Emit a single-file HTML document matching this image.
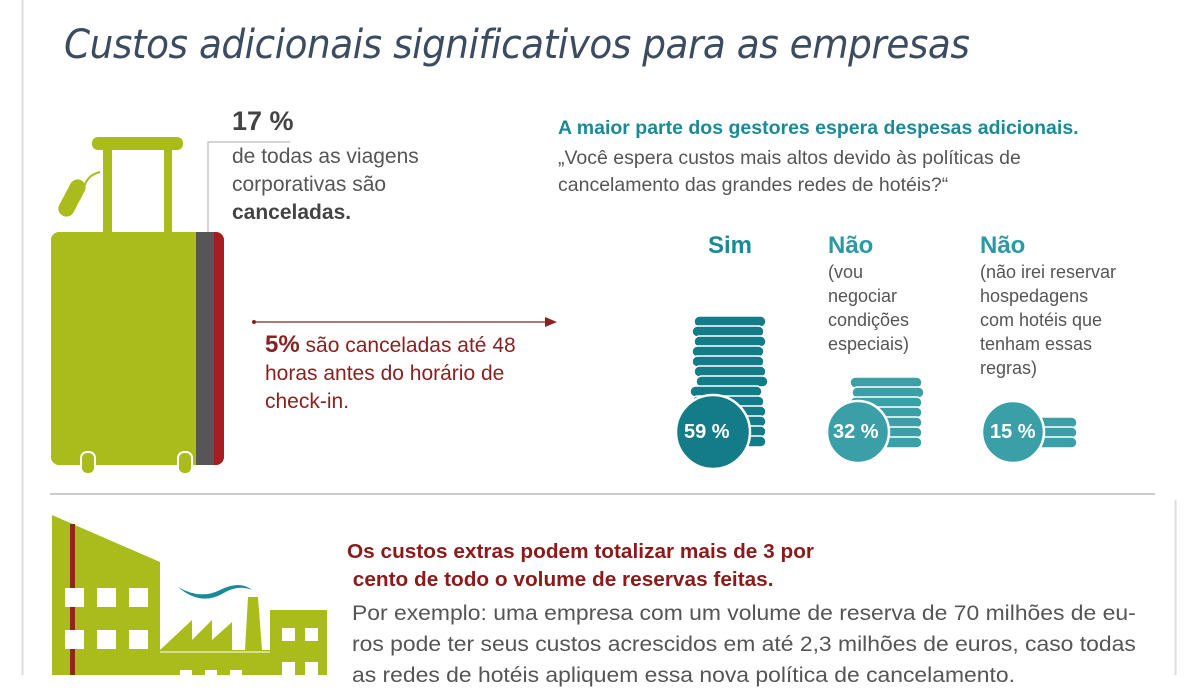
<!DOCTYPE html>
<html><head><meta charset="utf-8"><style>
body{margin:0;width:1200px;height:675px;overflow:hidden;background:#fff;font-family:"Liberation Sans",sans-serif;position:relative}
.t{position:absolute;white-space:nowrap}
</style></head><body>
<svg width="1200" height="675" style="position:absolute;left:0;top:0">
<line x1="22.5" y1="0" x2="22.5" y2="675" stroke="#ddd" stroke-width="2"/>
<line x1="1175.5" y1="500" x2="1175.5" y2="675" stroke="#ddd" stroke-width="2"/>
<line x1="50" y1="494" x2="1155" y2="494" stroke="#ccc" stroke-width="2"/>
<rect x="92" y="137" width="91" height="13" rx="6" fill="#a9bc1b"/>
<rect x="103" y="150" width="9" height="84" fill="#a9bc1b"/>
<rect x="164" y="150" width="8" height="84" fill="#a9bc1b"/>
<path d="M100 172 Q88 175 85 185" stroke="#a9bc1b" stroke-width="2" fill="none"/>
<rect x="64" y="178" width="16" height="40" rx="8" transform="rotate(28 72 198)" fill="#a9bc1b"/>
<rect x="51" y="232" width="173" height="233" rx="8" fill="#a9bc1b"/>
<rect x="196" y="232" width="18" height="233" fill="#565656"/>
<path d="M214 232 h2 a8 8 0 0 1 8 8 v217 a8 8 0 0 1 -8 8 h-2z" fill="#a41e22"/>
<rect x="81" y="452" width="14" height="22" rx="6" fill="#a9bc1b" stroke="#fff" stroke-width="2"/>
<rect x="178" y="452" width="14" height="22" rx="6" fill="#a9bc1b" stroke="#fff" stroke-width="2"/>
<polyline points="290,142 208,142 208,232" fill="none" stroke="#aaa" stroke-width="1"/>
<line x1="254" y1="322" x2="550" y2="322" stroke="#8b2020" stroke-width="1.2"/>
<circle cx="254" cy="322" r="2" fill="#8b2020"/>
<path d="M545 317 L557 322 L545 327z" fill="#8b2020"/>
<g fill="#137c88" stroke="#fff" stroke-width="1.5">
<rect x="694" y="316" width="72" height="11" rx="5.5"/><rect x="692" y="326" width="72" height="11" rx="5.5"/><rect x="694" y="336" width="72" height="11" rx="5.5"/><rect x="692" y="346" width="72" height="11" rx="5.5"/><rect x="692" y="356" width="72" height="11" rx="5.5"/><rect x="694" y="366" width="72" height="11" rx="5.5"/><rect x="696" y="376" width="72" height="11" rx="5.5"/><rect x="690" y="386" width="72" height="11" rx="5.5"/><rect x="692" y="396" width="72" height="11" rx="5.5"/><rect x="694" y="406" width="72" height="11" rx="5.5"/><rect x="694" y="416" width="72" height="11" rx="5.5"/><rect x="694" y="426" width="72" height="11" rx="5.5"/><rect x="694" y="436" width="72" height="11" rx="5.5"/>
<circle cx="713" cy="432" r="37" stroke-width="2.5"/>
</g>
<g fill="#3a9fa6" stroke="#fff" stroke-width="1.5">
<rect x="850" y="377" width="72" height="11" rx="5.5"/><rect x="852" y="387" width="72" height="11" rx="5.5"/><rect x="850" y="397" width="72" height="11" rx="5.5"/><rect x="850" y="407" width="72" height="11" rx="5.5"/><rect x="850" y="417" width="72" height="11" rx="5.5"/><rect x="850" y="427" width="72" height="11" rx="5.5"/><rect x="850" y="437" width="72" height="11" rx="5.5"/>
<circle cx="858" cy="432" r="31" stroke-width="2.5"/>
</g>
<g fill="#3a9fa6" stroke="#fff" stroke-width="1.5">
<rect x="1035" y="417" width="42" height="11" rx="5.5"/><rect x="1035" y="427" width="42" height="11" rx="5.5"/><rect x="1035" y="437" width="42" height="11" rx="5.5"/>
<circle cx="1013" cy="432" r="31" stroke-width="2.5"/>
</g>
<polygon points="52,515 160,562 160,675 52,675" fill="#a9bc1b"/>
<rect x="70" y="524" width="5" height="151" fill="#8b2a10"/>
<g fill="#fff"><rect x="65" y="588" width="19" height="19"/><rect x="97" y="588" width="19" height="19"/><rect x="129" y="588" width="19" height="19"/><rect x="65" y="630" width="19" height="19"/><rect x="97" y="630" width="19" height="19"/><rect x="129" y="630" width="19" height="19"/></g>
<polygon points="160,650 192,620 192,640 212,620 212,640 232,622 232,650 245,650 248,597 258,597 262,650 270,650 270,610 327,610 327,675 160,675" fill="#a9bc1b"/>
<line x1="160" y1="652" x2="270" y2="652" stroke="#fff" stroke-width="1"/>
<g fill="#fff"><rect x="282" y="628" width="13" height="13"/><rect x="305" y="628" width="13" height="13"/><rect x="282" y="662" width="13" height="13"/><rect x="305" y="662" width="13" height="13"/><rect x="180" y="670" width="12" height="6"/><rect x="205" y="670" width="12" height="6"/><rect x="230" y="670" width="12" height="6"/></g>
<path d="M178 587 Q200 600 220 590 Q240 580 252 590 Q238 584 222 594 Q200 606 178 587z" fill="#1a8a98"/>
</svg>
<div class="t" style="left:64px;top:22px;font-size:40px;font-style:italic;color:#3b4b60;font-family:'DejaVu Sans',sans-serif;font-weight:200;letter-spacing:-0.5px;transform:scaleX(0.935);transform-origin:left">Custos adicionais significativos para as empresas</div>
<div class="t" style="left:232px;top:106px;font-size:27px;font-weight:bold;color:#444">17 %</div>
<div class="t" style="left:232px;top:143px;font-size:21px;line-height:28px;color:#555">de todas as viagens<br>corporativas são<br><b style="color:#444">canceladas.</b></div>
<div class="t" style="left:265px;top:331px;font-size:21px;line-height:28px;color:#8b2020"><b style="font-size:24px">5%</b> são canceladas até 48<br>horas antes do horário de<br>check-in.</div>
<div class="t" style="left:558px;top:117px;font-size:19.5px;font-weight:bold;color:#1a8a96">A maior parte dos gestores espera despesas adicionais.</div>
<div class="t" style="left:558px;top:145px;font-size:19.5px;line-height:27px;color:#555">„Você espera custos mais altos devido às políticas de<br>cancelamento das grandes redes de hotéis?“</div>
<div class="t" style="left:708px;top:232px;font-size:24px;font-weight:bold;color:#1a8a96">Sim</div>
<div class="t" style="left:828px;top:232px;font-size:24px;font-weight:bold;color:#2a9aa4">Não</div>
<div class="t" style="left:980px;top:232px;font-size:24px;font-weight:bold;color:#2a9aa4">Não</div>
<div class="t" style="left:828px;top:260px;font-size:18px;line-height:24px;color:#555">(vou<br>negociar<br>condições<br>especiais)</div>
<div class="t" style="left:980px;top:260px;font-size:18px;line-height:24px;color:#555">(não irei reservar<br>hospedagens<br>com hotéis que<br>tenham essas<br>regras)</div>
<div class="t" style="left:684px;top:421px;font-size:20px;font-weight:bold;color:#fff">59 %</div>
<div class="t" style="left:833px;top:421px;font-size:20px;font-weight:bold;color:#fff">32 %</div>
<div class="t" style="left:990px;top:421px;font-size:20px;font-weight:bold;color:#fff">15 %</div>
<div class="t" style="left:347px;top:538px;font-size:20px;line-height:28px;font-weight:bold;color:#8b1a1a;transform:scaleX(1.04);transform-origin:left">Os custos extras podem totalizar mais de 3 por<br>&nbsp;cento de todo o volume de reservas feitas.</div>
<div class="t" style="left:352px;top:598px;font-size:21px;line-height:31px;color:#555;transform:scaleX(1.09);transform-origin:left">Por exemplo: uma empresa com um volume de reserva de 70 milhões de eu-<br>ros pode ter seus custos acrescidos em até 2,3 milhões de euros, caso todas<br>as redes de hotéis apliquem essa nova política de cancelamento.</div>
</body></html>
